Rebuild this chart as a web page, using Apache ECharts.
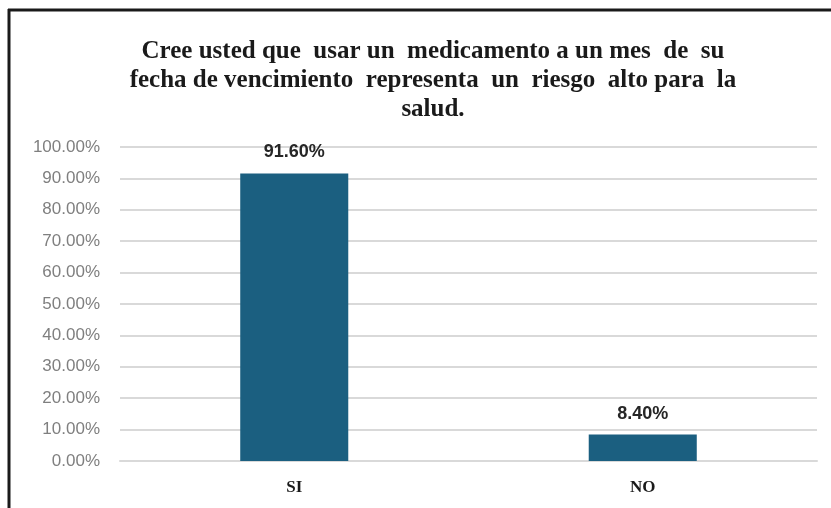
<!DOCTYPE html>
<html>
<head>
<meta charset="utf-8">
<script src="https://cdn.jsdelivr.net/npm/echarts@6/dist/echarts.min.js"></script>
<style>
  html, body { margin: 0; padding: 0; background: #fff; }
  #chart { width: 831px; height: 508px; }
</style>
</head>
<body>
<div id="chart"></div>
<script>
// datos
var categorias = ["SI", "NO"];
var porcentajes = [91.6, 8.4];
var titulo = [
  "Cree usted que  usar un  medicamento a un mes  de  su",
  "fecha de vencimiento  representa  un  riesgo  alto para  la",
  "salud."
];

var myChart = echarts.init(document.getElementById("chart"));
var options = {
  animation: false,
  title: {
    text: titulo.join("\n"),
    left: 428,
    top: 32,
    textAlign: "center",
    textStyle: {
      fontFamily: "Liberation Serif",
      fontWeight: "bold",
      fontSize: 25,
      lineHeight: 29,
      color: "#1a1a1a",
    },
  },
  // marco del grafico (solo arriba e izquierda se ven)
  graphic: [
    {
      type: "line",
      shape: { x1: 8, y1: 10, x2: 831, y2: 10 },
      style: { stroke: "#1a1a1a", lineWidth: 3 },
    },
    {
      type: "line",
      shape: { x1: 9, y1: 9, x2: 9, y2: 508 },
      style: { stroke: "#1a1a1a", lineWidth: 3 },
    },
  ],
  grid: {
    top: 147,
    left: 120,
    right: 14,
    bottom: 47,
    containLabel: false,
  },
  xAxis: {
    type: "category",
    data: categorias,
    axisTick: { show: false },
    axisLine: { lineStyle: { color: "#d9d9d9", width: 2 } },
    axisLabel: {
      margin: 18,
      fontFamily: "Liberation Serif",
      fontWeight: "bold",
      fontSize: 17,
      color: "#1a1a1a",
    },
  },
  yAxis: {
    type: "value",
    min: 0,
    max: 100,
    interval: 10,
    axisLine: { show: false },
    axisTick: { show: false },
    axisLabel: {
      margin: 20,
      fontFamily: "Liberation Sans",
      fontSize: 17,
      color: "#7f7f7f",
      formatter: function (v) {
        return v.toFixed(2) + "%";
      },
    },
    splitLine: { lineStyle: { color: "#d9d9d9", width: 2 } },
  },
  series: [
    {
      type: "bar",
      data: porcentajes,
      barWidth: "31%",
      itemStyle: { color: "#1b5f80" },
      label: {
        show: true,
        position: "top",
        distance: 12,
        fontFamily: "Liberation Sans",
        fontWeight: "bold",
        fontSize: 18,
        color: "#262626",
        formatter: function (p) {
          return p.value.toFixed(2) + "%";
        },
      },
    },
  ],
};
myChart.setOption(options);
</script>
</body>
</html>
